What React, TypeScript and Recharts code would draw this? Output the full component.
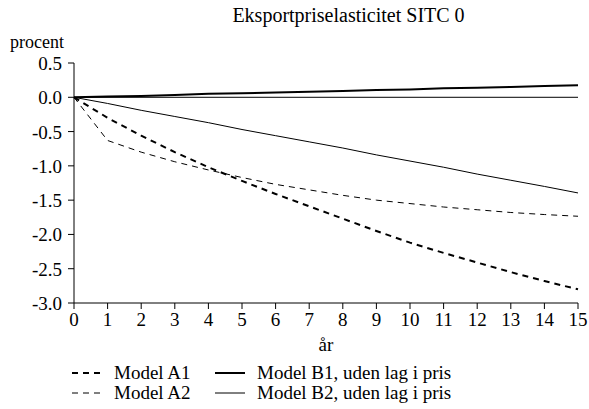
import React from "react";
import {
  Legend,
  Line,
  LineChart,
  ReferenceLine,
  XAxis,
  YAxis
} from "recharts";

const years = [0, 1, 2, 3, 4, 5, 6, 7, 8, 9, 10, 11, 12, 13, 14, 15];
const modelA1 = [0, -0.3, -0.56, -0.8, -1.02, -1.22, -1.41, -1.59, -1.77, -1.95, -2.12, -2.27, -2.41, -2.55, -2.68, -2.8];
const modelA2 = [0, -0.63, -0.8, -0.94, -1.06, -1.17, -1.27, -1.35, -1.43, -1.5, -1.55, -1.6, -1.64, -1.68, -1.71, -1.735];
const modelB1 = [0, 0.01, 0.02, 0.035, 0.05, 0.06, 0.07, 0.08, 0.09, 0.105, 0.115, 0.13, 0.14, 0.15, 0.165, 0.175];
const modelB2 = [0, -0.09, -0.19, -0.28, -0.37, -0.47, -0.56, -0.65, -0.74, -0.84, -0.93, -1.02, -1.12, -1.21, -1.3, -1.395];

const yTicks = [0.5, 0, -0.5, -1, -1.5, -2, -2.5, -3];

const data = years.map((year, i) => ({
  year,
  a1: modelA1[i],
  a2: modelA2[i],
  b1: modelB1[i],
  b2: modelB2[i]
}));

const font = "Liberation Serif, serif";

// legend laid out in two columns like the original
const legendItems = [
  { key: "a1", label: "Model A1", width: 2, dash: "6 5", col: 0, row: 0 },
  { key: "b1", label: "Model B1, uden lag i pris", width: 2, dash: "", col: 1, row: 0 },
  { key: "a2", label: "Model A2", width: 1, dash: "6 5", col: 0, row: 1 },
  { key: "b2", label: "Model B2, uden lag i pris", width: 1, dash: "", col: 1, row: 1 }
];

function XTick(props: any) {
  const { x, y, payload } = props;
  return (
    <text x={x} y={y} dy={16} textAnchor="middle" fill="#000" style={{ fontFamily: font, fontSize: 19 }}>
      {payload.value}
    </text>
  );
}

function YTick(props: any) {
  const { x, y, payload } = props;
  return (
    <text x={x} y={y} dy={7} textAnchor="end" fill="#000" style={{ fontFamily: font, fontSize: 19 }}>
      {Number(payload.value).toFixed(1)}
    </text>
  );
}

function renderLegend() {
  return (
    <div style={{ position: "relative", width: 589, height: 44 }}>
      {legendItems.map((item) => (
        <div
          key={item.key}
          style={{
            position: "absolute",
            left: item.col === 0 ? 72 : 215,
            top: item.row * 20,
            display: "flex",
            alignItems: "center",
            whiteSpace: "nowrap",
            lineHeight: "20px"
          }}
        >
          <svg width={30} height={10} style={{ marginRight: 12 }}>
            <line x1={0} y1={5} x2={30} y2={5} stroke="#000" strokeWidth={item.width} strokeDasharray={item.dash || undefined} />
          </svg>
          <span style={{ fontFamily: font, fontSize: 19, color: "#000" }}>{item.label}</span>
        </div>
      ))}
    </div>
  );
}

export default function App() {
  return (
    <div style={{ position: "absolute", left: 0, top: 0, width: 589, height: 409, background: "#fff", fontFamily: font }}>
      <div style={{ position: "absolute", left: 0, width: 697, top: 3, textAlign: "center", fontSize: 20, lineHeight: "24px" }}>
        Eksportpriselasticitet SITC 0
      </div>
      <div style={{ position: "absolute", left: 10, top: 36, fontSize: 18, lineHeight: "12px" }}>procent</div>
      <div style={{ position: "absolute", left: 74, width: 504, top: 333, textAlign: "center", fontSize: 19, lineHeight: "24px" }}>år</div>
      <LineChart width={589} height={409} data={data} margin={{ top: 63, right: 11, bottom: 76, left: 0 }} style={{ fontFamily: font }}>
        <XAxis
          dataKey="year"
          type="number"
          domain={[0, 15]}
          ticks={years}
          interval={0}
          tick={<XTick />}
          tickSize={6}
          tickMargin={1}
          stroke="#000"
          height={30}
        />
        <YAxis
          yAxisId="left"
          type="number"
          domain={[-3, 0.5]}
          ticks={yTicks}
          interval={0}
          tick={<YTick />}
          tickSize={6}
          tickMargin={6}
          stroke="#000"
          width={74}
        />
        <YAxis
          yAxisId="right"
          orientation="right"
          type="number"
          domain={[-3, 0.5]}
          ticks={yTicks}
          interval={0}
          mirror
          tick={false}
          tickSize={6}
          stroke="#000"
          width={0}
        />
        <ReferenceLine yAxisId="left" y={0} stroke="#000" strokeWidth={1} />
        <Line yAxisId="left" dataKey="a1" stroke="#000" strokeWidth={2} strokeDasharray="6 5" dot={false} isAnimationActive={false} />
        <Line yAxisId="left" dataKey="a2" stroke="#000" strokeWidth={1} strokeDasharray="6 5" dot={false} isAnimationActive={false} />
        <Line yAxisId="left" dataKey="b1" stroke="#000" strokeWidth={2} dot={false} isAnimationActive={false} />
        <Line yAxisId="left" dataKey="b2" stroke="#000" strokeWidth={1} dot={false} isAnimationActive={false} />
        <Legend
          layout="vertical"
          align="center"
          verticalAlign="middle"
          content={renderLegend}
          wrapperStyle={{ left: 0, top: 363, width: 589 }}
        />
      </LineChart>
    </div>
  );
}
